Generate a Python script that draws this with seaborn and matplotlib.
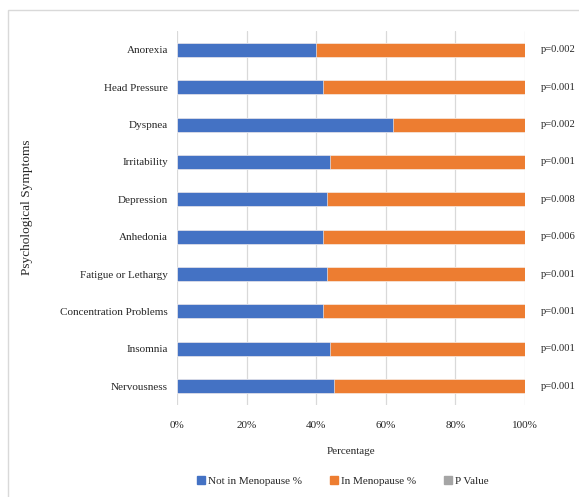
import matplotlib
matplotlib.use("Agg")
import matplotlib.pyplot as plt
from matplotlib.patches import Rectangle
import numpy as np
import pandas as pd
import seaborn as sns

symptoms = ["Anorexia", "Head Pressure", "Dyspnea", "Irritability", "Depression",
            "Anhedonia", "Fatigue or Lethargy", "Concentration Problems",
            "Insomnia", "Nervousness"]
not_menopause = [40, 42, 62, 44, 43, 42, 43, 42, 44, 45]
in_menopause = [60, 58, 38, 56, 57, 58, 57, 58, 56, 55]
p_values = [0.002, 0.001, 0.002, 0.001, 0.008, 0.006, 0.001, 0.001, 0.001, 0.001]
x_ticks = [0, 20, 40, 60, 80, 100]

BLUE = "#4472C4"
ORANGE = "#ED7D31"
GRAY = "#A5A5A5"
TEXT = "#262626"
FS = 8.0

sns.set_theme(style="white")
plt.rcParams["font.family"] = ["Liberation Serif", "DejaVu Serif"]

df = pd.DataFrame({"symptom": symptoms, "not": not_menopause,
                   "in": in_menopause, "p": p_values})
total = df["not"] + df["in"] + df["p"]
df["s1"] = df["not"] / total * 100
df["s2"] = (df["not"] + df["in"]) / total * 100
df["s3"] = 100.0

fig = plt.figure(figsize=(5.79, 4.97), dpi=100)
ax = fig.add_axes([177 / 579, 1 - 404.7 / 497, 348 / 579, (404.7 - 31.3) / 497])

# outer chart border
fig.patches.append(Rectangle((8 / 579, -0.1), 1.2, 1 - 9.5 / 497 + 0.1,
                             transform=fig.transFigure, fill=False,
                             edgecolor="#D9D9D9", linewidth=1.0, zorder=0))

bw = 0.38
sns.barplot(data=df, x="s3", y="symptom", color=GRAY, width=bw, ax=ax,
            saturation=1, orient="h", linewidth=0.4, edgecolor="white", zorder=3)
sns.barplot(data=df, x="s2", y="symptom", color=ORANGE, width=bw, ax=ax,
            saturation=1, orient="h", linewidth=0.4, edgecolor="white", zorder=3)
sns.barplot(data=df, x="s1", y="symptom", color=BLUE, width=bw, ax=ax,
            saturation=1, orient="h", linewidth=0.4, edgecolor="white", zorder=3)

# p-value labels to the right of each bar
for i, p in enumerate(p_values):
    ax.text(1.047, i, f"p={p:.3f}", transform=ax.get_yaxis_transform(),
            ha="left", va="center", fontsize=7.6, color=TEXT, clip_on=False)

ax.set_xlim(0, 100)
ax.set_ylim(len(symptoms) - 0.5, -0.5)
ax.set_xticks(x_ticks)
ax.set_xticklabels([f"{t}%" for t in x_ticks])
ax.xaxis.grid(True, color="#D9D9D9", linewidth=0.9, zorder=0)
ax.set_axisbelow(True)
for s in ax.spines.values():
    s.set_visible(False)
ax.tick_params(axis="both", length=0, labelsize=FS, colors=TEXT)
ax.tick_params(axis="x", pad=12)
ax.tick_params(axis="y", pad=6.5)
ax.set_xlabel("Percentage", fontsize=FS, color=TEXT, labelpad=12)
ax.set_ylabel("Psychological Symptoms", fontsize=9.6, color=TEXT)
ax.yaxis.set_label_coords(-(177 - 33) / 348, 0.53)

handles = [Rectangle((0, 0), 1, 1, color=c) for c in (BLUE, ORANGE, GRAY)]
fig.legend(handles, ["Not in Menopause %", "In Menopause %", "P Value"],
           loc="center", bbox_to_anchor=(343 / 579, 1 - 481 / 497), ncol=3,
           frameon=False, fontsize=FS, handlelength=0.7, handleheight=0.7,
           handletextpad=0.3, columnspacing=2.5, labelcolor=TEXT)

fig.savefig("out.png", dpi=100)
